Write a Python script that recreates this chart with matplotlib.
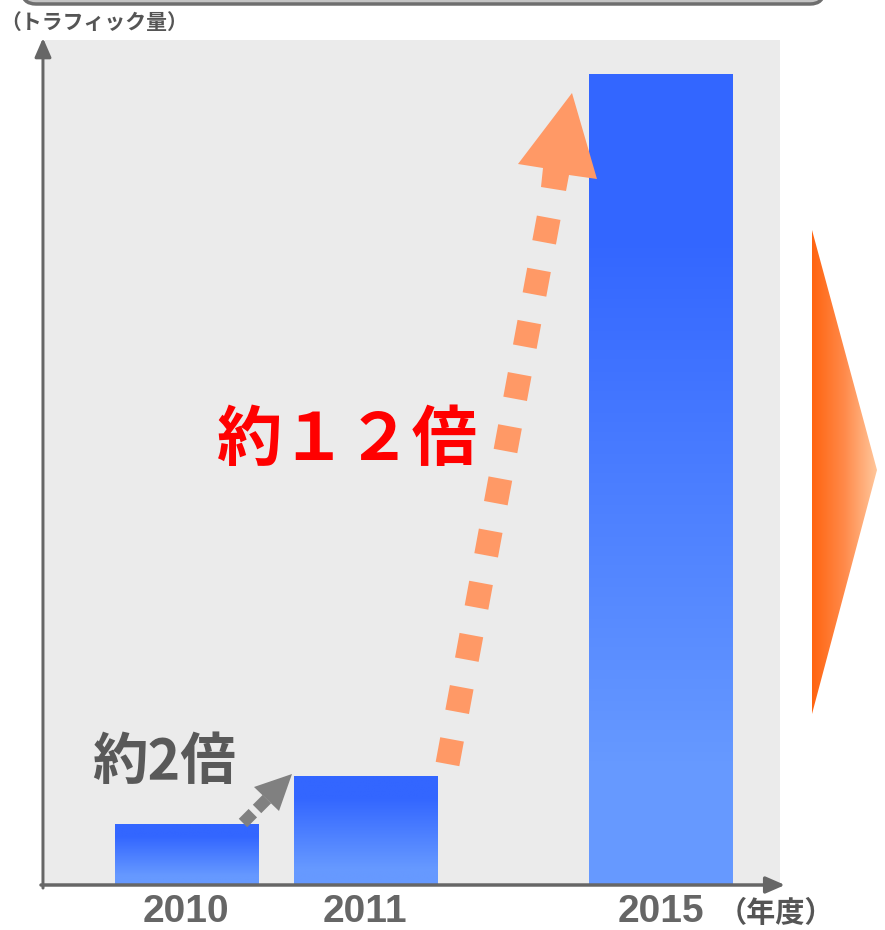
import numpy as np
import matplotlib.pyplot as plt
from matplotlib.colors import LinearSegmentedColormap
from matplotlib.patches import Polygon, FancyBboxPatch

plt.rcParams['font.family'] = ['Noto Sans CJK JP', 'DejaVu Sans']
plt.rcParams['lines.scale_dashes'] = False

# データ（2010年度を1とした相対値）
years = ['2010', '2011', '2015']
x_pos = [0.0, 1.0, 2.65]
traffic = [1.0, 1.8, 13.5]
bar_width = 0.8

W, H = 885, 930
fig = plt.figure(figsize=(W / 100, H / 100), dpi=100)

# メインの棒グラフ
ax = fig.add_axes([45 / W, (H - 885) / H, (780 - 45) / W, (885 - 40) / H])
ax.set_facecolor('#EBEBEB')
for s in ax.spines.values():
    s.set_visible(False)
ax.set_yticks([])
ax.set_xticks(x_pos, years)
# ベースラインを軸の 37px 下に置く
ax.tick_params(axis='x', length=0, pad=26.6, labelsize=28, labelcolor='#666666')
for lbl in ax.get_xticklabels():
    lbl.set_fontfamily(['Liberation Sans'])
    lbl.set_fontweight('bold')
    lbl.set_verticalalignment('baseline')

bar_cmap = LinearSegmentedColormap.from_list(
    'bar', [(0, '#6699FF'), (0.15, '#6699FF'), (0.8, '#3366FF'), (1, '#3366FF')])
grad = np.linspace(0, 1, 256).reshape(-1, 1)
bars = ax.bar(x_pos, traffic, width=bar_width, color='none')
for b in bars:
    x0, y0 = b.get_x(), b.get_y()
    ax.imshow(grad, cmap=bar_cmap, origin='lower', aspect='auto',
              extent=(x0, x0 + b.get_width(), y0, y0 + b.get_height()), zorder=2)
ax.set_xlim(-0.79, 3.316)
ax.set_ylim(0, 14.08)

# 装飾用オーバーレイ（ピクセル座標）
ov = fig.add_axes([0, 0, 1, 1], zorder=5)
ov.set_xlim(0, W)
ov.set_ylim(H, 0)
ov.axis('off')

# 上部のボックス（下端のみ見える）
ov.add_patch(FancyBboxPatch((22, -60), 802, 64, boxstyle='round,pad=0,rounding_size=14',
                            facecolor='#c4c4c4', edgecolor='#6e6e6e', lw=2.5, clip_on=False))

# 軸の矢印
arrow_style = '-|>,head_length=1.15,head_width=0.5'
ov.annotate('', xy=(43, 38), xytext=(43, 888),
            arrowprops=dict(arrowstyle=arrow_style, color='#666666', lw=2.2,
                            shrinkA=0, shrinkB=0, mutation_scale=10))
ov.annotate('', xy=(785, 885), xytext=(41, 885),
            arrowprops=dict(arrowstyle=arrow_style, color='#666666', lw=2.5,
                            shrinkA=0, shrinkB=0, mutation_scale=10))

# 約2倍の矢印（グレー）
ov.plot([243, 268], [823, 798], color='#808080', lw=8.6, dashes=(10, 4.3),
        solid_capstyle='butt', dash_capstyle='butt')
ov.add_patch(Polygon([(292, 774), (279, 811), (254, 787)], closed=True,
                     facecolor='#808080', edgecolor='none'))

# 約12倍の矢印（オレンジ点線）
orange = '#FF9966'
ov.plot([447.5, 549], [764, 216], color=orange, lw=17.3, dashes=(18, 20.2),
        solid_capstyle='butt', dash_capstyle='butt')
ov.add_patch(Polygon([(572, 93), (597, 179), (569, 175), (566, 191),
                      (541, 187), (543, 168), (518, 164)], closed=True,
                     facecolor=orange, edgecolor='none'))

# 右側のグラデーション三角形
tri = Polygon([(812, 230), (877, 470), (812, 714)], closed=True,
              facecolor='none', edgecolor='none')
ov.add_patch(tri)
tri_cmap = LinearSegmentedColormap.from_list('tri', ['#FF6410', '#FF8A4A', '#FFC79C'])
img = ov.imshow(np.linspace(0, 1, 256).reshape(1, -1), cmap=tri_cmap, aspect='auto',
                extent=(812, 877, 714, 230), zorder=3)
img.set_clip_path(tri)
ov.set_xlim(0, W)
ov.set_ylim(H, 0)

# テキスト
ov.text(0, 22, '（トラフィック量）', fontsize=15, fontweight='bold', color='#555555',
        ha='left', va='center')
ov.text(718, 913, '（年度）', fontsize=21, fontweight='bold', color='#555555',
        ha='left', va='center')
ov.text(164, 763, '約2倍', fontsize=40, fontweight='bold', color='#595959',
        ha='center', va='center')
ov.text(347, 440, '約１２倍', fontsize=47, fontweight='bold', color='#FF0000',
        ha='center', va='center')

fig.savefig('out.png', dpi=100)
